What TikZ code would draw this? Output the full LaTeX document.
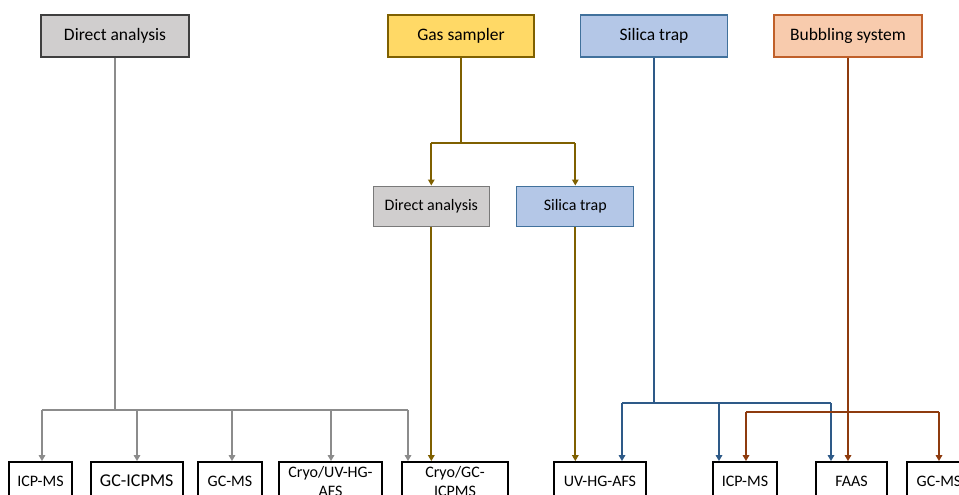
\documentclass[tikz,border=0pt]{standalone}
\usepackage{fontspec}
\setmainfont{Carlito}
\usetikzlibrary{arrows.meta}
\definecolor{dafill}{HTML}{D0CECE}
\definecolor{daborder}{HTML}{3F3F3F}
\definecolor{grayline}{HTML}{8C8C8C}
\definecolor{gsfill}{HTML}{FFD966}
\definecolor{gsline}{HTML}{7F6000}
\definecolor{stfill}{HTML}{B4C7E7}
\definecolor{stborder}{HTML}{41719C}
\definecolor{stline}{HTML}{2E5A88}
\definecolor{bsfill}{HTML}{F8CBAD}
\definecolor{bsborder}{HTML}{C0602A}
\definecolor{bsline}{HTML}{8E3B0E}
\begin{document}
\begin{tikzpicture}[x=1pt,y=-1pt,
  topbox/.style={draw, line width=1.2pt, minimum height=42pt, inner sep=0pt, font=\fontsize{17.5}{21}\selectfont},
  midbox/.style={draw, line width=1pt, minimum height=40pt, inner sep=0pt, font=\fontsize{16}{19}\selectfont},
  botbox/.style={draw=black, line width=1.8pt, minimum height=38pt, inner sep=0pt, align=center, font=\fontsize{16}{19}\selectfont},
  conn/.style={line width=1.8pt},
  arr/.style={conn, -{Triangle[width=6.5pt,length=6pt]}}]
\useasboundingbox (0,0) rectangle (959,495);
\clip (0,0) rectangle (959,495);
% top row
\node[topbox, fill=dafill, draw=daborder, minimum width=148pt] (da) at (115,36) {Direct analysis};
\node[topbox, fill=gsfill, draw=gsline, minimum width=146pt] (gs) at (461,36) {Gas sampler};
\node[topbox, fill=stfill, draw=stborder, minimum width=147pt] (st) at (654,36) {Silica trap};
\node[topbox, fill=bsfill, draw=bsborder, minimum width=148pt] (bs) at (848,36) {Bubbling system};
% second row
\node[midbox, fill=dafill, draw=daborder!70, minimum width=116pt] (da2) at (431.3,206) {Direct analysis};
\node[midbox, fill=stfill, draw=stborder, minimum width=117pt] (st2) at (575.3,206) {Silica trap};
% bottom row
\node[botbox, minimum width=63pt] (b1) at (40.5,481) {ICP-MS};
\node[botbox, minimum width=92pt, font=\fontsize{18}{21}\selectfont] (b2) at (136.7,481) {GC-ICPMS};
\node[botbox, minimum width=64pt] (b3) at (230,481) {GC-MS};
\node[botbox, minimum width=103pt] (b4) at (330.5,481) {Cryo/UV-HG-\\AFS};
\node[botbox, minimum width=106pt] (b5) at (455,481) {Cryo/GC-\\ICPMS};
\node[botbox, minimum width=92pt] (b6) at (600,481) {UV-HG-AFS};
\node[botbox, minimum width=64pt] (b7) at (745,481) {ICP-MS};
\node[botbox, minimum width=71pt] (b8) at (851.5,481) {FAAS};
\node[botbox, minimum width=64pt] (b9) at (939,481) {GC-MS};
% gray connectors
\coordinate (g1) at (42,410);
\coordinate (g2) at (137,410);
\coordinate (g3) at (232,410);
\coordinate (g4) at (331,410);
\coordinate (g5) at (408,410);
\draw[conn, grayline] (da.south) -- (da.south |- g1);
\draw[conn, grayline] (g1) -- (g5);
\draw[arr, grayline] (g1) -- (g1 |- b1.north);
\draw[arr, grayline] (g2) -- (g2 |- b2.north);
\draw[arr, grayline] (g3) -- (g3 |- b3.north);
\draw[arr, grayline] (g4) -- (g4 |- b4.north);
\draw[arr, grayline] (g5) -- (g5 |- b5.north);
% gas sampler connectors
\coordinate (gl) at (431.3,143);
\coordinate (gr) at (575.3,143);
\draw[conn, gsline] (gs.south) -- (gs.south |- gl);
\draw[conn, gsline] (gl) -- (gr);
\draw[arr, gsline] (gl) -- (da2.north);
\draw[arr, gsline] (gr) -- (st2.north);
\draw[arr, gsline] (da2.south) -- (da2.south |- b5.north);
\draw[arr, gsline] (st2.south) -- (st2.south |- b6.north);
% silica trap connectors
\coordinate (s1) at (622,403);
\coordinate (s2) at (719,403);
\coordinate (s3) at (831,403);
\draw[conn, stline] (st.south) -- (st.south |- s1);
\draw[conn, stline] (s1) -- (s3);
\draw[arr, stline] (s1) -- (s1 |- b6.north);
\draw[arr, stline] (s2) -- (s2 |- b7.north);
\draw[arr, stline] (s3) -- (s3 |- b8.north);
% bubbling system connectors
\coordinate (p1) at (746,412);
\coordinate (p2) at (939,412);
\draw[conn, bsline] (p1) -- (p2);
\draw[arr, bsline] (p1) -- (p1 |- b7.north);
\draw[arr, bsline] (p2) -- (p2 |- b9.north);
\draw[arr, bsline] (bs.south) -- (bs.south |- b8.north);
\end{tikzpicture}
\end{document}
